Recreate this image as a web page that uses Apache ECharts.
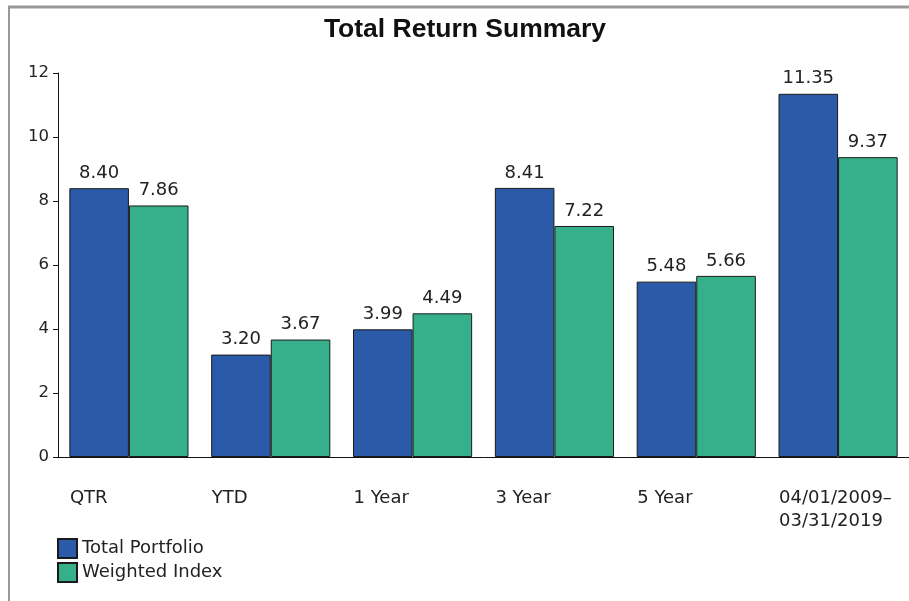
<!DOCTYPE html>
<html>
<head>
<meta charset="utf-8">
<script src="https://cdn.jsdelivr.net/npm/echarts@6/dist/echarts.min.js"></script>
<style>
html,body{margin:0;padding:0;background:#fff;}
#chart{width:909px;height:601px;}
</style>
</head>
<body>
<div id="chart"></div>
<script>
const categories = ['QTR', 'YTD', '1 Year', '3 Year', '5 Year', '04/01/2009–\n03/31/2019'];
const totalPortfolio = [8.40, 3.20, 3.99, 8.41, 5.48, 11.35];
const weightedIndex = [7.86, 3.67, 4.49, 7.22, 5.66, 9.37];
const seriesNames = ['Total Portfolio', 'Weighted Index'];
const yTicks = {min: 0, max: 12, interval: 2};

const FONT = 'DejaVu Sans';
const chart = echarts.init(document.getElementById('chart'));
const labelStyle = {
  show: true, position: 'top', distance: 6,
  fontFamily: FONT, fontSize: 18, color: '#222',
  formatter: p => p.value.toFixed(2)
};
chart.setOption({
  animation: false,
  backgroundColor: '#fff',
  title: {
    text: 'Total Return Summary',
    left: 460, top: 11, textAlign: 'center',
    textStyle: {fontFamily: 'Liberation Sans', fontWeight: 'bold', fontSize: 26.5, color: '#111'}
  },
  graphic: [
    {type: 'line', shape: {x1: 8, y1: 7, x2: 909, y2: 7}, style: {stroke: '#999', lineWidth: 3}},
    {type: 'line', shape: {x1: 9, y1: 7, x2: 9, y2: 601}, style: {stroke: '#999', lineWidth: 2}}
  ],
  legend: {
    orient: 'vertical', left: 57, top: 538, padding: 0,
    itemWidth: 19, itemHeight: 19, itemGap: 3,
    icon: 'rect',
    data: seriesNames,
    textStyle: {fontFamily: FONT, fontSize: 18, color: '#222', lineHeight: 21}
  },
  grid: {left: 58, right: 0, top: 73, bottom: 144, containLabel: false},
  xAxis: {
    type: 'category', data: categories,
    axisLine: {lineStyle: {color: '#111', width: 1}},
    axisTick: {show: false},
    axisLabel: {
      margin: 30, interval: 0, align: 'center',
      formatter: v => v.split('\n').map(s => '{a|' + s + '}').join('\n'),
      rich: {a: {width: 118, align: 'left', fontFamily: FONT, fontSize: 18, lineHeight: 23, color: '#222'}}
    }
  },
  yAxis: {
    type: 'value', min: yTicks.min, max: yTicks.max, interval: yTicks.interval,
    axisLine: {show: true, lineStyle: {color: '#111', width: 1}},
    axisTick: {show: true, length: 5, lineStyle: {color: '#111'}},
    splitLine: {show: false},
    axisLabel: {margin: 9, fontFamily: FONT, fontSize: 16.5, color: '#222'}
  },
  series: [
    {name: seriesNames[0], type: 'bar', data: totalPortfolio, barGap: '0%', barCategoryGap: '16%',
     itemStyle: {color: '#2B5BA8', borderColor: '#1a1a1a', borderWidth: 1}, label: labelStyle},
    {name: seriesNames[1], type: 'bar', data: weightedIndex,
     itemStyle: {color: '#36B08A', borderColor: '#1a1a1a', borderWidth: 1}, label: labelStyle}
  ]
});
</script>
</body>
</html>
